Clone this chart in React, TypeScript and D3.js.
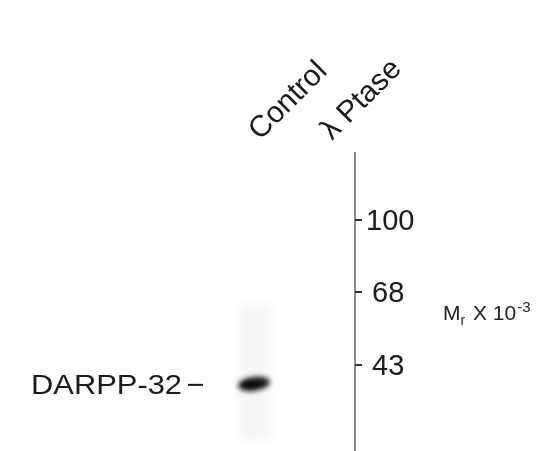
import React from "react";
import * as d3 from "d3";

const lanes = ["Control", "λ Ptase"];
const markerLabels = ["100", "68", "43"];
const markerValues = [100, 68, 43];
const bandLanes = ["Control"];
const bandMw = [38.2];
const bandIntensity = [1];
const proteinLabel = "DARPP-32";

const W = 545;
const H = 451;
const FONT = "'Liberation Sans', Arial, Helvetica, sans-serif";

export default function App() {
  const y = d3.scaleLog().domain(markerValues).range([220, 292, 365]);
  const x = d3.scaleBand().domain(lanes).range([219, 363]);
  const axisX = 355;
  const axisTop = 152;

  return (
    <svg width={W} height={H} style={{ position: "absolute", left: 0, top: 0, background: "#fff" }}>
      <defs>
        <filter id="blur" x="-50%" y="-80%" width="200%" height="260%">
          <feGaussianBlur stdDeviation="2.8" />
        </filter>
        <filter id="blur2" x="-50%" y="-50%" width="200%" height="200%">
          <feGaussianBlur stdDeviation="5" />
        </filter>
        <filter id="soft" x="-10%" y="-10%" width="120%" height="120%">
          <feGaussianBlur stdDeviation="0.4" />
        </filter>
      </defs>
      <rect width={W} height={H} fill="#fff" />
      {/* faint lane smear */}
      {bandLanes.map((l, i) => {
        const cx = (x(l) ?? 0) + x.bandwidth() / 2;
        return (
          <rect key={"s" + i} x={cx - 16} y={305} width={32} height={135}
            fill="#f6f6f6" filter="url(#blur2)" />
        );
      })}
      {/* bands */}
      {bandLanes.map((l, i) => {
        const cx = (x(l) ?? 0) + x.bandwidth() / 2 - 1;
        const cy = y(bandMw[i]);
        return (
          <g key={"b" + i} filter="url(#blur)" opacity={bandIntensity[i]}>
            <ellipse cx={cx} cy={cy} rx={16} ry={7} fill="#1a1a1a" transform={`rotate(-8 ${cx} ${cy})`} />
            <ellipse cx={cx - 4} cy={cy + 2} rx={10} ry={5} fill="#111" />
          </g>
        );
      })}
      <g filter="url(#soft)">
        {/* lane labels */}
        {lanes.map((l) => {
          const lx = (x(l) ?? 0) + x.bandwidth() / 2 + 5;
          const ly = 141;
          return (
            <text key={l} x={lx} y={ly} transform={`rotate(-45 ${lx} ${ly})`} fontFamily={FONT}
              fontSize={30} fill="#1a1a1a">{l}</text>
          );
        })}
        {/* axis */}
        <line x1={axisX} x2={axisX} y1={axisTop} y2={H} stroke="#8a8a8a" strokeWidth={2} />
        {markerValues.map((v, i) => (
          <g key={v}>
            <line x1={axisX} x2={axisX + 7} y1={y(v)} y2={y(v)} stroke="#333" strokeWidth={2} />
            <text x={markerLabels[i].length === 3 ? axisX + 11 : axisX + 17} y={y(v) + 10}
              fontFamily={FONT} fontSize={29} fill="#1a1a1a">{markerLabels[i]}</text>
          </g>
        ))}
        {/* Mr label */}
        <text x={443} y={320} fontFamily={FONT} fontSize={21} fill="#222">
          M<tspan dy={5} fontSize={14}>r</tspan>
          <tspan dy={-5} dx={2}> X 10</tspan>
          <tspan dy={-8} dx={1} fontSize={15}>-3</tspan>
        </text>
        {/* protein label */}
        {bandLanes.map((l, i) => {
          const cy = y(bandMw[i]);
          return (
            <g key={"p" + i}>
              <text x={31} y={cy + 10} fontFamily={FONT} fontSize={28} fill="#1a1a1a"
                textLength={151} lengthAdjust="spacingAndGlyphs">{proteinLabel}</text>
              <line x1={188} x2={203} y1={cy + 1} y2={cy + 1} stroke="#1a1a1a" strokeWidth={2} />
            </g>
          );
        })}
      </g>
    </svg>
  );
}
